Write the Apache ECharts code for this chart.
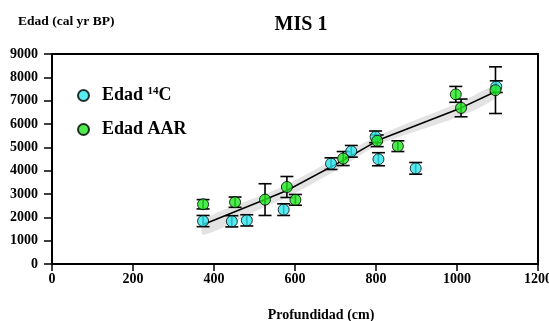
<!DOCTYPE html>
<html>
<head>
<meta charset="utf-8">
<script src="https://cdn.jsdelivr.net/npm/echarts@6/dist/echarts.min.js"></script>
<style>html,body{margin:0;padding:0;background:#fff}#c{width:549px;height:321px}</style>
</head>
<body>
<div id="c"></div>
<script>
// Edad 14C
const c14Depth = [373, 444, 481, 572, 689, 739, 799, 806, 898, 1097];
const c14Age   = [1840, 1830, 1870, 2330, 4300, 4830, 5450, 4490, 4100, 7600];
const c14Err   = [240, 240, 240, 250, 250, 250, 250, 280, 250, 250];
// Edad AAR
const aarDepth = [373, 452, 526, 580, 601, 719, 803, 854, 997, 1010, 1095];
const aarAge   = [2560, 2650, 2760, 3300, 2750, 4520, 5280, 5050, 7270, 6690, 7450];
const aarErr   = [200, 220, 680, 450, 230, 300, 250, 230, 340, 380, 1000];
// age-depth model
const modelDepth = [375, 526, 580, 720, 805, 1010, 1097];
const modelAge   = [1700, 2760, 3150, 4450, 5300, 6690, 7400];
const modelLow   = [1250, 2450, 2850, 4200, 5100, 6350, 7150];
const modelHigh  = [1900, 3000, 3400, 4700, 5500, 6950, 7650];
// axes
const xTicks = [0, 200, 400, 600, 800, 1000, 1200];
const yTicks = [0, 1000, 2000, 3000, 4000, 5000, 6000, 7000, 8000, 9000];

const FONT = 'Liberation Serif';
const chart = echarts.init(document.getElementById('c'), null, {renderer: 'canvas'});

function errSeries(depth, age, err) {
  return {
    type: 'custom', silent: true, z: 3,
    data: depth.map((d, i) => [d, age[i] - err[i], age[i] + err[i]]),
    renderItem: (params, api) => {
      const lo = api.coord([api.value(0), api.value(1)]);
      const hi = api.coord([api.value(0), api.value(2)]);
      const w = 6.5;
      const st = {stroke: '#000', lineWidth: 1.6};
      return {type: 'group', children: [
        {type: 'line', shape: {x1: lo[0], y1: lo[1], x2: hi[0], y2: hi[1]}, style: st},
        {type: 'line', shape: {x1: lo[0] - w, y1: lo[1], x2: lo[0] + w, y2: lo[1]}, style: st},
        {type: 'line', shape: {x1: hi[0] - w, y1: hi[1], x2: hi[0] + w, y2: hi[1]}, style: st}
      ]};
    }
  };
}

const option = {
  animation: false,
  backgroundColor: '#fff',
  title: [
    {text: 'MIS 1', left: 296, top: 10, textAlign: 'center',
     textStyle: {fontFamily: FONT, fontWeight: 'bold', fontSize: 20, color: '#000'}},
    {text: 'Edad (cal yr BP)', left: 13, top: 10,
     textStyle: {fontFamily: FONT, fontWeight: 'bold', fontSize: 13.5, color: '#000'}},
    {text: 'Profundidad (cm)', left: 316, top: 303, textAlign: 'center',
     textStyle: {fontFamily: FONT, fontWeight: 'bold', fontSize: 14, color: '#000'}}
  ],
  legend: {
    left: 72, top: 81, orient: 'vertical', itemGap: 16,
    itemWidth: 11, itemHeight: 11,
    data: ['Edad 14C', 'Edad AAR'],
    formatter: n => n === 'Edad 14C' ? '{a|Edad }{s|14}{a|C}' : '{a|' + n + '}',
    textStyle: {
      fontFamily: FONT, fontWeight: 'bold', fontSize: 18, color: '#000', padding: [0, 0, 0, 8],
      rich: {
        a: {fontFamily: FONT, fontWeight: 'bold', fontSize: 18, color: '#000'},
        s: {fontFamily: FONT, fontWeight: 'bold', fontSize: 11, color: '#000', verticalAlign: 'top', padding: [0, 0, 8, 0]}
      }
    }
  },
  grid: {left: 52, right: 11, top: 54, bottom: 57, containLabel: false, outerBoundsMode: 'none',
         show: true, borderColor: '#000', borderWidth: 2, backgroundColor: 'transparent'},
  xAxis: {
    type: 'value', min: xTicks[0], max: xTicks[xTicks.length - 1], interval: 200,
    axisLine: {show: true, onZero: false, lineStyle: {color: '#000', width: 2}},
    axisTick: {show: true, length: 7, lineStyle: {color: '#000', width: 1.5}},
    splitLine: {show: false},
    axisLabel: {fontFamily: FONT, fontWeight: 'bold', fontSize: 14, color: '#000', margin: 8, formatter: v => String(v)}
  },
  yAxis: {
    type: 'value', min: yTicks[0], max: yTicks[yTicks.length - 1], interval: 1000,
    axisLine: {show: true, onZero: false, lineStyle: {color: '#000', width: 2}},
    axisTick: {show: true, length: 8, lineStyle: {color: '#000', width: 1.5}},
    splitLine: {show: false},
    axisLabel: {fontFamily: FONT, fontWeight: 'bold', fontSize: 14, color: '#000', margin: 14, formatter: v => String(v)}
  },
  series: [
    {
      type: 'custom', silent: true, z: 1,
      data: modelDepth.map((d, i) => [d, modelAge[i]]),
      renderItem: (params, api) => {
        if (params.dataIndex !== 0) return;
        const pts = [];
        for (let i = 0; i < modelDepth.length; i++) pts.push(api.coord([modelDepth[i], modelHigh[i]]));
        for (let i = modelDepth.length - 1; i >= 0; i--) pts.push(api.coord([modelDepth[i], modelLow[i]]));
        return {type: 'polygon', shape: {points: pts, smooth: 0.3}, style: {fill: '#e3e3e3'}};
      }
    },
    {
      type: 'line', silent: true, z: 2, symbol: 'none',
      data: modelDepth.map((d, i) => [d, modelAge[i]]),
      lineStyle: {color: '#000', width: 1.6}
    },
    errSeries(c14Depth, c14Age, c14Err),
    errSeries(aarDepth, aarAge, aarErr),
    {
      name: 'Edad 14C', type: 'scatter', z: 4, symbol: 'circle', symbolSize: 11,
      data: c14Depth.map((d, i) => [d, c14Age[i]]),
      itemStyle: {color: '#2ee6ef', borderColor: '#000', borderWidth: 1}
    },
    {
      name: 'Edad AAR', type: 'scatter', z: 5, symbol: 'circle', symbolSize: 11,
      data: aarDepth.map((d, i) => [d, aarAge[i]]),
      itemStyle: {color: '#22e622', borderColor: '#000', borderWidth: 1}
    }
  ]
};
chart.setOption(option);
</script>
</body>
</html>
